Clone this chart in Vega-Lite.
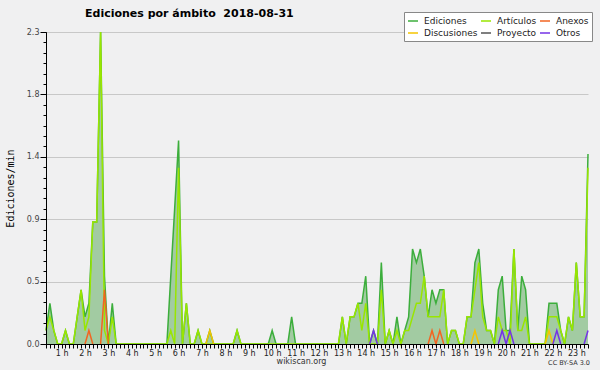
{
  "$schema": "https://vega.github.io/schema/vega-lite/v6.json",
  "width": 542,
  "height": 312,
  "autosize": {"type": "none"},
  "padding": {"left": 46, "top": 32, "right": 12, "bottom": 26},
  "background": "#f0f0f1",
  "config": {"view": {"stroke": null}, "font": "DejaVu Sans"},
  "title": {
    "text": "Ediciones por ámbito\u00a0\u00a02018-08-31",
    "anchor": "start",
    "frame": "group",
    "dx": 39,
    "dy": 16,
    "offset": 0,
    "baseline": "alphabetic",
    "font": "DejaVu Sans",
    "fontSize": 11,
    "fontWeight": "bold",
    "color": "#000000"
  },
  "data": {"values": [
    {"i":2,"ediciones":0.1,"articulos":0.1},
    {"i":3,"ediciones":0.3,"articulos":0.2},
    {"i":4,"ediciones":0.1,"articulos":0.1},
    {"i":5,"ediciones":0,"articulos":0},
    {"i":6,"ediciones":0,"articulos":0},
    {"i":7,"ediciones":0.1,"articulos":0.1},
    {"i":8,"ediciones":0,"articulos":0},
    {"i":9,"ediciones":0,"articulos":0},
    {"i":10,"ediciones":0.2,"articulos":0.2},
    {"i":11,"ediciones":0.4,"articulos":0.4},
    {"i":12,"ediciones":0.2,"articulos":0.1,"anexos":0},
    {"i":13,"ediciones":0.3,"articulos":0.2,"anexos":0.1},
    {"i":14,"ediciones":0.9,"articulos":0.9,"anexos":0},
    {"i":15,"ediciones":0.9,"articulos":0.9},
    {"i":16,"ediciones":2.3,"articulos":2.3,"anexos":0},
    {"i":17,"ediciones":0.5,"articulos":0.1,"anexos":0.4},
    {"i":18,"ediciones":0,"articulos":0,"anexos":0},
    {"i":19,"ediciones":0.3,"articulos":0.2},
    {"i":20,"ediciones":0,"articulos":0},
    {"i":21,"ediciones":0,"articulos":0},
    {"i":22,"ediciones":0,"articulos":0},
    {"i":23,"ediciones":0,"articulos":0},
    {"i":24,"ediciones":0,"articulos":0},
    {"i":25,"ediciones":0,"articulos":0},
    {"i":26,"ediciones":0,"articulos":0},
    {"i":27,"ediciones":0,"articulos":0},
    {"i":28,"ediciones":0,"articulos":0},
    {"i":29,"ediciones":0,"articulos":0},
    {"i":30,"ediciones":0,"articulos":0},
    {"i":31,"ediciones":0,"articulos":0},
    {"i":32,"ediciones":0,"articulos":0},
    {"i":33,"ediciones":0,"articulos":0},
    {"i":34,"ediciones":0.5,"articulos":0.1},
    {"i":35,"ediciones":1.0,"articulos":0},
    {"i":36,"ediciones":1.5,"articulos":1.3},
    {"i":37,"ediciones":0,"articulos":0},
    {"i":38,"ediciones":0.3,"articulos":0.3},
    {"i":39,"ediciones":0,"articulos":0},
    {"i":40,"ediciones":0,"articulos":0},
    {"i":41,"ediciones":0.1,"articulos":0.1},
    {"i":42,"ediciones":0,"articulos":0},
    {"i":43,"ediciones":0,"articulos":0,"discusiones":0},
    {"i":44,"ediciones":0.1,"articulos":0,"discusiones":0.1},
    {"i":45,"ediciones":0,"articulos":0,"discusiones":0},
    {"i":46,"ediciones":0,"articulos":0},
    {"i":47,"ediciones":0,"articulos":0},
    {"i":48,"ediciones":0,"articulos":0},
    {"i":49,"ediciones":0,"articulos":0},
    {"i":50,"ediciones":0,"articulos":0},
    {"i":51,"ediciones":0.1,"articulos":0.1},
    {"i":52,"ediciones":0,"articulos":0},
    {"i":53,"ediciones":0,"articulos":0},
    {"i":54,"ediciones":0,"articulos":0},
    {"i":55,"ediciones":0,"articulos":0},
    {"i":56,"ediciones":0,"articulos":0},
    {"i":57,"ediciones":0,"articulos":0},
    {"i":58,"ediciones":0,"articulos":0},
    {"i":59,"ediciones":0,"articulos":0},
    {"i":60,"ediciones":0.1,"articulos":0},
    {"i":61,"ediciones":0,"articulos":0},
    {"i":62,"ediciones":0,"articulos":0},
    {"i":63,"ediciones":0,"articulos":0},
    {"i":64,"ediciones":0,"articulos":0},
    {"i":65,"ediciones":0.2,"articulos":0},
    {"i":66,"ediciones":0,"articulos":0},
    {"i":67,"ediciones":0,"articulos":0},
    {"i":68,"ediciones":0,"articulos":0},
    {"i":69,"ediciones":0,"articulos":0},
    {"i":70,"ediciones":0,"articulos":0},
    {"i":71,"ediciones":0,"articulos":0},
    {"i":72,"ediciones":0,"articulos":0},
    {"i":73,"ediciones":0,"articulos":0},
    {"i":74,"ediciones":0,"articulos":0},
    {"i":75,"ediciones":0,"articulos":0},
    {"i":76,"ediciones":0,"articulos":0},
    {"i":77,"ediciones":0,"articulos":0},
    {"i":78,"ediciones":0.2,"articulos":0.2},
    {"i":79,"ediciones":0,"articulos":0},
    {"i":80,"ediciones":0.2,"articulos":0.2},
    {"i":81,"ediciones":0.2,"articulos":0.2},
    {"i":82,"ediciones":0.3,"articulos":0.3},
    {"i":83,"ediciones":0.3,"articulos":0.1},
    {"i":84,"ediciones":0.5,"articulos":0.3},
    {"i":85,"ediciones":0,"articulos":0,"otros":0},
    {"i":86,"ediciones":0.1,"articulos":0,"otros":0.1},
    {"i":87,"ediciones":0,"articulos":0,"otros":0},
    {"i":88,"ediciones":0.6,"articulos":0.4},
    {"i":89,"ediciones":0,"articulos":0},
    {"i":90,"ediciones":0.1,"articulos":0.1},
    {"i":91,"ediciones":0,"articulos":0},
    {"i":92,"ediciones":0.2,"articulos":0.1},
    {"i":93,"ediciones":0,"articulos":0},
    {"i":94,"ediciones":0.1,"articulos":0.1},
    {"i":95,"ediciones":0.2,"articulos":0.1},
    {"i":96,"ediciones":0.7,"articulos":0.2},
    {"i":97,"ediciones":0.6,"articulos":0.3},
    {"i":98,"ediciones":0.7,"articulos":0.3},
    {"i":99,"ediciones":0.5,"articulos":0.5},
    {"i":100,"ediciones":0.2,"articulos":0.2,"anexos":0},
    {"i":101,"ediciones":0.4,"articulos":0.2,"anexos":0.1},
    {"i":102,"ediciones":0.3,"articulos":0.2,"anexos":0},
    {"i":103,"ediciones":0.4,"articulos":0.2,"anexos":0.1},
    {"i":104,"ediciones":0.4,"articulos":0.4,"anexos":0},
    {"i":105,"ediciones":0,"articulos":0},
    {"i":106,"ediciones":0.1,"articulos":0.1},
    {"i":107,"ediciones":0.1,"articulos":0.1},
    {"i":108,"ediciones":0,"articulos":0},
    {"i":109,"ediciones":0,"articulos":0},
    {"i":110,"ediciones":0.2,"articulos":0.2},
    {"i":111,"ediciones":0.2,"articulos":0.2,"discusiones":0},
    {"i":112,"ediciones":0.6,"articulos":0.4,"discusiones":0.1},
    {"i":113,"ediciones":0.7,"articulos":0.6,"discusiones":0},
    {"i":114,"ediciones":0.3,"articulos":0.2},
    {"i":115,"ediciones":0.1,"articulos":0.1},
    {"i":116,"ediciones":0.1,"articulos":0.1},
    {"i":117,"ediciones":0,"articulos":0},
    {"i":118,"ediciones":0.4,"articulos":0.2,"otros":0},
    {"i":119,"ediciones":0.5,"articulos":0.1,"otros":0.1},
    {"i":120,"ediciones":0.1,"articulos":0.1,"otros":0},
    {"i":121,"ediciones":0.1,"articulos":0,"otros":0.1},
    {"i":122,"ediciones":0.7,"articulos":0.7,"otros":0},
    {"i":123,"ediciones":0.1,"articulos":0.1},
    {"i":124,"ediciones":0.5,"articulos":0.1},
    {"i":125,"ediciones":0.4,"articulos":0.2},
    {"i":126,"ediciones":0,"articulos":0},
    {"i":127,"ediciones":0,"articulos":0},
    {"i":128,"ediciones":0,"articulos":0},
    {"i":129,"ediciones":0,"articulos":0},
    {"i":130,"ediciones":0,"articulos":0,"discusiones":0},
    {"i":131,"ediciones":0.3,"articulos":0.2,"discusiones":0.1},
    {"i":132,"ediciones":0.3,"articulos":0.2,"discusiones":0,"otros":0},
    {"i":133,"ediciones":0.3,"articulos":0.2,"otros":0.1},
    {"i":134,"ediciones":0.1,"articulos":0.1,"otros":0},
    {"i":135,"ediciones":0,"articulos":0},
    {"i":136,"ediciones":0.2,"articulos":0.2},
    {"i":137,"ediciones":0.1,"articulos":0.1},
    {"i":138,"ediciones":0.6,"articulos":0.6},
    {"i":139,"ediciones":0.2,"articulos":0.2},
    {"i":140,"ediciones":0.2,"articulos":0.2,"otros":0},
    {"i":141,"ediciones":1.4,"articulos":1.3,"otros":0.1}
  ]},
  "layer": [
    {
      "mark": {"type": "area", "color": "#a2cba2", "interpolate": "linear"},
      "encoding": {
        "x": {"field": "i", "type": "quantitative", "scale": {"domain": [2, 141], "nice": false, "zero": false}, "axis": null},
        "y": {"field": "ediciones", "type": "quantitative", "scale": {"domain": [0, 2.3], "nice": false},
          "axis": {"orient": "left", "values": [0, 0.46, 0.92, 1.38, 1.84, 2.3], "grid": true, "gridColor": "#c8c8c8", "gridWidth": 1,
            "domain": false, "ticks": true, "tickSize": 6, "tickColor": "#000000", "labels": false, "title": null, "zindex": 0}}
      }
    },
    {
      "transform": [{"fold": ["ediciones"], "as": ["serie", "v"]}],
      "mark": {"type": "line", "strokeWidth": 1.5},
      "encoding": {
        "x": {"field": "i", "type": "quantitative",
          "axis": {"orient": "bottom", "values": [2,3,4,5,6,7,8,9,10,11,12,13,14,15,16,17,18,19,20,21,22,23,24,25,26,27,28,29,30,31,32,33,34,35,36,37,38,39,40,41,42,43,44,45,46,47,48,49,50,51,52,53,54,55,56,57,58,59,60,61,62,63,64,65,66,67,68,69,70,71,72,73,74,75,76,77,78,79,80,81,82,83,84,85,86,87,88,89,90,91,92,93,94,95,96,97,98,99,100,101,102,103,104,105,106,107,108,109,110,111,112,113,114,115,116,117,118,119,120,121,122,123,124,125,126,127,128,129,130,131,132,133,134,135,136,137,138,139,140,141],
            "labelExpr": "datum.value % 6 == 0 ? (datum.value / 6) + ' h' : ''",
            "labelOverlap": false, "labelBound": false, "labelFlush": false,
            "tickSize": 4, "tickColor": "#000000", "domainColor": "#000000", "grid": false,
            "labelFont": "DejaVu Sans", "labelFontSize": 8, "labelColor": "#222222", "labelPadding": 1,
            "title": "wikiscan.org", "titleFont": "DejaVu Sans", "titleFontSize": 8, "titleFontWeight": "normal", "titleColor": "#333333",
            "titleX": 255, "titleY": 17, "titleBaseline": "middle", "titleAlign": "center", "zindex": 1}},
        "y": {"field": "v", "type": "quantitative",
          "axis": {"orient": "left", "values": [0,0.0767,0.1533,0.23,0.3067,0.3833,0.46,0.5367,0.6133,0.69,0.7667,0.8433,0.92,0.9967,1.0733,1.15,1.2267,1.3033,1.38,1.4567,1.5333,1.61,1.6867,1.7633,1.84,1.9167,1.9933,2.07,2.1467,2.2233,2.3],
            "labelExpr": "round(datum.value * 30 / 2.3) % 6 == 0 ? format(datum.value, '.1f') : ''",
            "labelOverlap": false, "labelBound": false, "labelFlush": false,
            "tickSize": 3, "tickColor": "#000000", "domainColor": "#000000", "grid": false,
            "labelFont": "DejaVu Sans", "labelFontSize": 8, "labelColor": "#444444", "labelPadding": 4,
            "title": "Ediciones/min", "titleFont": "DejaVu Sans Mono", "titleFontSize": 10, "titleFontWeight": "normal", "titleColor": "#000000",
            "titleX": -36, "titleY": 156, "titleBaseline": "middle", "titleAlign": "center", "zindex": 1}},
        "color": {"field": "serie", "type": "nominal",
          "scale": {"domain": ["ediciones", "discusiones", "articulos", "proyecto", "anexos", "otros"],
                    "range": ["#3cae3c", "#f5c400", "#99e600", "#555555", "#f26522", "#7433e6"]},
          "legend": {"orient": "none", "legendX": 358, "legendY": -20, "columns": 3, "gridAlign": "each", "title": null,
            "symbolType": "stroke", "symbolSize": 100, "symbolStrokeWidth": 1.5,
            "labelFont": "DejaVu Sans", "labelFontSize": 9, "labelColor": "#222222", "labelOffset": 5,
            "columnPadding": 0, "rowPadding": 1, "padding": 3, "fillColor": "#ffffff", "strokeColor": "#888888",
            "labelExpr": "{'ediciones': 'Ediciones', 'articulos': 'Artículos', 'anexos': 'Anexos', 'discusiones': 'Discusiones', 'proyecto': 'Proyecto', 'otros': 'Otros'}[datum.label]"}}
      }
    },
    {
      "transform": [{"fold": ["articulos"], "as": ["serie", "v"]}],
      "mark": {"type": "line", "strokeWidth": 1.5},
      "encoding": {
        "x": {"field": "i", "type": "quantitative", "axis": null},
        "y": {"field": "v", "type": "quantitative", "axis": null},
        "color": {"field": "serie", "type": "nominal", "legend": null}
      }
    },
    {
      "transform": [{"fold": ["anexos", "discusiones", "otros"], "as": ["serie", "v"]}],
      "mark": {"type": "line", "strokeWidth": 1.5},
      "encoding": {
        "x": {"field": "i", "type": "quantitative", "axis": null},
        "y": {"field": "v", "type": "quantitative", "axis": null},
        "color": {"field": "serie", "type": "nominal", "legend": null}
      }
    },
    {
      "data": {"values": [{}]},
      "mark": {"type": "text", "text": "CC BY-SA 3.0", "align": "right", "baseline": "middle", "dx": 2, "dy": 19, "font": "DejaVu Sans", "fontSize": 6.5, "color": "#333333"},
      "encoding": {
        "x": {"datum": 141, "type": "quantitative", "axis": null},
        "y": {"datum": 0, "type": "quantitative", "axis": null}
      }
    }
  ],
  "resolve": {"axis": {"x": "independent", "y": "independent"}}
}
